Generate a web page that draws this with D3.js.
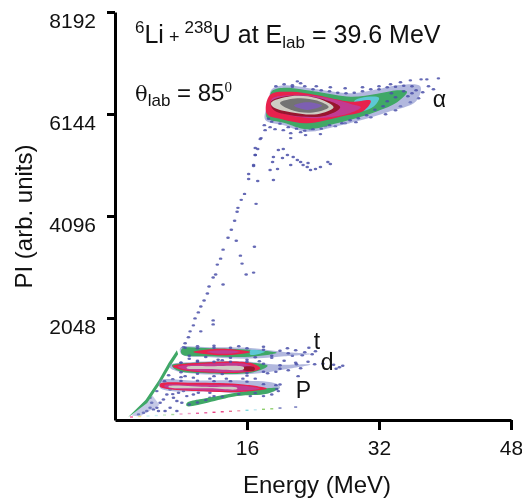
<!DOCTYPE html>
<html>
<head>
<meta charset="utf-8">
<script src="https://cdn.jsdelivr.net/npm/d3@7"></script>
<style>
body { margin: 0; background: #fff; }
text { font-family: "Liberation Sans", Arial, sans-serif; fill: #111; }
.axis path, .axis line { stroke: #000; stroke-width: 3; }
.axis text { font-size: 21px; font-family: "Liberation Sans", Arial, sans-serif; fill: #111; }
</style>
</head>
<body>
<div id="chart"></div>
<script>
// tick labels
const energyTicks = [16, 32, 48];
const piTicks = [2048, 4096, 6144, 8192];

// contour bands of the alpha blob [energy, PI]
const alphaOuter = [[19.0,6640],[20.45,6720],[24.5,6640],[28.6,6560],[31.8,6640],[34.2,6720],[37,6700],[36.5,6400],[33,6180],[29.8,6020],[26.9,5900],[23.3,5790],[20.45,5920],[18.2,6030],[18.6,6380]];
const alphaGreen = [[19.0,6600],[20.45,6670],[24.5,6590],[28.6,6490],[31.8,6550],[34.2,6620],[35.4,6590],[34.2,6380],[31.8,6200],[29.8,6090],[26.9,5960],[23.3,5840],[20.45,5970],[18.4,6070],[18.7,6380]];
const alphaCyan = [[29.0,6400],[30.6,6490],[32.0,6470],[31.4,6300],[29.6,6210]];
const alphaRed = [[18.8,6530],[21.3,6590],[24.5,6520],[28.6,6390],[31.0,6413],[30.2,6213],[27.3,6090],[23.3,5960],[20.45,6030],[18.4,6147]];
const alphaMagenta = [[19.0,6447],[21.7,6527],[25.3,6480],[28.6,6347],[29.8,6280],[28.2,6147],[24.5,6060],[20.9,6130],[19.0,6280]];
const alphaDarkRed = [[18.9,6390],[21.3,6510],[24.5,6470],[27.3,6280],[25.5,6110],[21.3,6120],[19.2,6230]];
const alphaLightGray = [[18.9,6366],[21.3,6500],[24.5,6460],[26.5,6280],[24.5,6140],[21.3,6180],[19.2,6280]];
const alphaDarkGray = [[20.0,6366],[22.1,6460],[24.5,6413],[25.9,6280],[23.7,6170],[21.3,6230]];
const alphaPurple = [[21.7,6313],[23.3,6380],[25.1,6313],[23.3,6226]];

// t band
const tOuter = [[7.9,1447],[11.5,1460],[16.4,1447],[20.5,1367],[23.7,1327],[20.5,1280],[16.4,1233],[11.5,1260],[8.1,1313]];
const tGreen = [[8.1,1430],[11.5,1440],[16.4,1410],[19.6,1350],[16.4,1270],[11.5,1280],[8.1,1320]];
const tCyan = [[16.4,1400],[18.2,1370],[16.4,1310]];
const tRed = [[9.5,1367],[12.8,1433],[16.4,1367],[13.2,1300]];
const tMagenta = [[11.1,1367],[13.2,1400],[15.2,1367],[13.2,1330]];

// d band
const dOuter = [[6.7,1113],[9.5,1167],[15.6,1180],[19.6,1113],[23.7,1113],[20.5,1013],[16.8,927],[11.5,913],[7.5,980],[6.6,1060]];
const dGreen = [[6.9,1100],[9.5,1150],[15.6,1160],[18.5,1090],[16.8,960],[11.5,935],[7.5,1000]];
const dRed = [[7.0,1080],[9.9,1147],[16.4,1147],[17.6,1033],[16.4,967],[11.5,947],[7.9,1013]];
const dMagenta = [[7.6,1070],[10.2,1120],[16.0,1120],[17.0,1035],[16.0,985],[11.5,970],[8.4,1020]];
const dDark = [[15.5,1060],[16.9,1060],[16.9,1000],[15.5,1005]];
const dGray = [[8.7,1065],[11.5,1080],[15.6,1065],[15.6,1020],[11.5,1025],[8.7,1040]];

// P band
const pOuter = [[5.4,790],[9.5,790],[15.6,793],[19.6,727],[20,647],[18.4,527],[14.8,530],[12.5,567],[5.5,640]];
const pLower = [[8.7,280],[14.8,480],[18.4,527],[19.8,640],[18.4,640],[14.8,550],[11.5,450],[8.7,340]];
const pRed = [[5.47,727],[9.5,747],[15.6,713],[18.4,633],[15.6,567],[11.5,567],[5.47,667]];
const pMagenta = [[6.0,700],[9.5,710],[15.6,690],[17.6,630],[15.6,590],[11.5,590],[6.0,670]];
const pGray = [[6.5,680],[11.5,665],[14.8,650],[14.8,620],[11.5,635],[6.5,660]];

// diagonal edge from the origin up to the t band
const edgeGreen = [[7.65,1320],[6.7,1080],[5.5,740],[3.9,340],[1.8,80],[1.6,60],[3.7,400],[5.3,800],[6.5,1150],[7.5,1400]];
const edgeBlue = [[2,90],[4.4,520],[5.4,300],[3,70]];

// single counts
const streakDots = [[18.1,5920],[17.7,5660],[17.3,5440],[17.0,5320],[16.8,5100],[16.2,4940],[16.2,4840],[15.7,4540],[15.3,4420],[14.9,4260],[14.8,4180],[14.5,4000],[14.1,3820],[13.7,3660],[13.1,3420],[12.8,3240],[12.4,3120],[12.2,2920],[11.9,2860],[11.4,2680],[11.2,2540],[10.8,2400],[10.4,2280],[10.1,2160],[9.7,2040],[9.5,1900],[9.1,1780],[8.9,1660],[8.5,1540],[8.3,1460]];
const alphaDots = [[21.5,6720],[22.5,6760],[22.1,6800],[24.4,6700],[26.1,6680],[27.9,6660],[30.0,6680],[32.0,6700],[33.4,6740],[34.6,6780],[35.8,6820],[37.1,6840],[37.8,6840],[39.2,6860],[38.0,6700],[37.3,6580],[38.6,6640],[36.8,6460],[35.8,6380],[34.6,6300],[34.0,6220],[32.8,6140],[31.0,6080],[29.2,5980],[27.9,5960],[26.7,5900],[25.5,5900],[23.7,5840],[22.5,5780],[21.3,5760],[20.4,5820],[19.4,5840],[18.8,5880],[18.2,5820],[21.3,5660],[23.1,5720],[24.9,5740]];
const clusterDots = [[17.6,5640],[17.0,5460],[17.0,5320],[16.8,5120],[19.2,5280],[19.8,5420],[20.4,5440],[19.1,5180],[20.3,5260],[20.9,5320],[21.6,5280],[22.5,5180],[23.3,5080],[21.3,5120],[19.7,5040],[18.8,5020],[22.1,5220],[22.8,5120],[23.7,5020],[23.4,5160],[25.8,5180],[26.1,5140],[24.9,5080],[24.3,5040],[19.2,4820],[17.3,4800]];
const strayDots = [[17.1,4340],[14.7,3600],[16.9,3480],[15.2,3300],[15.4,3140],[15.9,2920],[16.8,2960],[13.1,2720],[11.9,2000],[11.9,1920],[10.4,1780]];
const bandDots = [[20.9,1440],[21.9,1400],[23.0,1360],[23.9,1320],[24.3,1380],[23.5,1450],[22.7,1300],[21.5,1290],[18.0,1470],[15.0,1480],[12.0,1490],[10.0,1480],[9.0,1230],[12.5,1210],[16.0,1210],[19.0,1250],
  [20.5,1190],[21.9,1150],[23.4,1170],[24.2,1120],[26.5,1110],[27.2,1060],[27.6,1090],[26.8,1030],[25.2,1130],[22.5,1040],[21.0,1000],[19.5,970],[17.5,1180],[13,1200],[10,1190],[8,1150],[8.5,880],[12,880],[16,890],[18.5,940],
  [6.5,900],[8.0,860],[9.5,850],[11.5,830],[13.5,830],[15.5,830],[17.0,830],[7.0,820],[22.2,880]];
const lowDots = [[4.25,446],[5.07,246],[6.28,513],[7.5,380],[6.68,246],[4.66,213],[3.85,180],[5.47,346],[6.07,180],[7.09,446],[8.1,346],[8.7,480],[9.5,513],[5.07,580],[6.68,613],[8.3,580],[5.87,413],[4.45,346],[5.27,180],[7.7,546],[10.1,546],[11.5,546],[4.25,246],[3.45,146],[2.85,113],[7.5,180],[9.9,380],[11.5,446],[13.2,480],[16.4,480],[18.0,480],[20.0,713],[19.8,580],[19.0,513]];

// counts speckled over the edges of the blobs
const alphaEdgeDots = [[19.5,6700],[20.5,6740],[21.5,6690],[23,6700],[24,6640],[25,6620],[26,6600],[27,6570],[28,6560],[29,6570],[30,6600],[31,6640],[32,6640],[33,6680],[34,6690],[35,6710],[36,6700],[36.5,6620],[36,6560],[35.5,6500],[35,6600],[34,6480],[33.5,6560],[33,6400],[32.5,6300],[31.5,6230],[30.5,6120],[29.5,6060],[28.5,6020],[27.5,5960],[26,5920],[25,5850],[24,5840],[23,5810],[22,5850],[21,5880],[20,5950],[19,5990],[18.6,6050]];
const bandEdgeDots = [[8.5,1450],[10,1440],[12,1450],[14,1450],[16,1440],[18,1410],[20,1390],[21,1340],[19,1290],[17,1260],[14,1250],[11,1265],[9,1290],
  [8,1150],[10,1170],[12,1170],[14,1170],[16,1170],[18,1130],[20,1100],[22,1120],[20,1030],[18,970],[16,945],[13,925],[10,930],[8,960],
  [6,780],[8,785],[10,790],[12,780],[14,780],[16,770],[18,720],[19.5,700],[19.6,620],[17,540],[15,520],[13,470],[11,400],[9,310],[10,350],[12,480],[7,520]];

// faint coloured line under the P band
const baseEnergy = [2,3,4,5,6,7,8,9,10,11,12,13,14,15,16,17,18,19,20,21.9];
const basePI = [60,70,80,90,100,110,120,130,135,145,155,165,175,185,195,205,215,225,240,260];
const baseColors = ['#f0609a','#f5e890','#c8eef0','#c8eef0','#c8eac8','#a8d8a0','#f0a0c8','#f0a0c8','#e860a0','#e860a0','#e84080','#e84080','#e87090','#f09ab0','#80d8e0','#c0e8f0','#90d070','#90d070','#6a70b8','#6a70b8'];

const margin = { top: 12, right: 11, bottom: 78, left: 115 };
const width = 522 - margin.left - margin.right,
    height = 498 - margin.top - margin.bottom;

const svgRoot = d3.select('#chart').append('svg')
    .attr('width', 522)
    .attr('height', 498)
    .style('display', 'block');

svgRoot.append('defs').append('filter')
    .attr('id', 'soft')
    .append('feGaussianBlur')
    .attr('stdDeviation', 0.55);

const svg = svgRoot.append('g')
    .attr('transform', 'translate(' + margin.left + ',' + margin.top + ')');

const x = d3.scaleLinear().domain([0, 48]).range([0, width]);
const y = d3.scaleLinear().domain([0, 8192]).range([height, 0]);

const blob = d3.line().x(d => x(d[0])).y(d => y(d[1])).curve(d3.curveCatmullRomClosed);
const edge = d3.line().x(d => x(d[0])).y(d => y(d[1])).curve(d3.curveLinearClosed);
const marks = svg.append('g').attr('filter', 'url(#soft)');

function drawDots(list) {
    marks.append('g').selectAll('ellipse')
        .data(list)
        .enter()
        .append('ellipse')
        .attr('cx', d => x(d[0]))
        .attr('cy', d => y(d[1]))
        .attr('rx', 1.8)
        .attr('ry', 1.2)
        .style('fill', '#4a50a8')
        .style('opacity', 0.85);
}

function drawBlob(points, color, opacity) {
    marks.append('path')
        .attr('d', blob(points))
        .style('fill', color)
        .style('opacity', opacity || 1);
}

const BLUE = '#7f88c8', GREEN = '#3fa866', CYAN = '#5cc8d4', RED = '#e8204e',
    MAGENTA = '#c23a92', DARKRED = '#98142e', LIGHT = '#cfcdc4', GRAY = '#737373', PURPLE = '#7d5fb2';

[streakDots, alphaDots, clusterDots, strayDots, bandDots, lowDots].forEach(drawDots);

marks.append('path').attr('d', edge(edgeBlue)).style('fill', BLUE).style('opacity', 0.45);
marks.append('path').attr('d', edge(edgeGreen)).style('fill', GREEN);

[[alphaOuter, BLUE, 0.6], [alphaGreen, GREEN], [alphaCyan, CYAN], [alphaRed, RED], [alphaMagenta, MAGENTA],
 [alphaDarkRed, DARKRED], [alphaLightGray, LIGHT], [alphaDarkGray, GRAY], [alphaPurple, PURPLE],
 [tOuter, BLUE, 0.6], [tGreen, GREEN], [tCyan, CYAN], [tRed, RED], [tMagenta, MAGENTA],
 [dOuter, BLUE, 0.6], [dGreen, GREEN], [dRed, RED], [dMagenta, MAGENTA], [dDark, DARKRED], [dGray, LIGHT],
 [pOuter, BLUE, 0.6], [pLower, GREEN], [pRed, RED], [pMagenta, MAGENTA], [pGray, LIGHT]
].forEach(b => drawBlob(b[0], b[1], b[2]));

drawDots(alphaEdgeDots);
drawDots(bandEdgeDots);

marks.append('g').selectAll('rect')
    .data(baseEnergy)
    .enter()
    .append('rect')
    .attr('x', d => x(d) - 1.5)
    .attr('y', (d, i) => y(basePI[i]) - 0.7)
    .attr('width', 3)
    .attr('height', 1.4)
    .style('fill', (d, i) => baseColors[i]);

// axes
svg.append('g')
    .attr('class', 'axis')
    .attr('transform', 'translate(0,' + height + ')')
    .call(d3.axisBottom(x).tickValues(energyTicks).tickFormat(d3.format('d')).tickSize(10).tickPadding(10).tickSizeOuter(0));

const yAxis = svg.append('g')
    .attr('class', 'axis')
    .call(d3.axisLeft(y).tickValues(piTicks).tickFormat(d3.format('d')).tickSize(8).tickPadding(11).tickSizeOuter(0));
yAxis.selectAll('.tick text').attr('dy', '15');

// axis titles
svg.append('text')
    .attr('transform', 'translate(202,481)')
    .style('text-anchor', 'middle')
    .style('font-size', '24px')
    .text('Energy (MeV)');

svg.append('text')
    .attr('transform', 'translate(-83,204.5) rotate(-90)')
    .style('text-anchor', 'middle')
    .style('font-size', '24px')
    .text('PI (arb. units)');

// annotations
const title = svgRoot.append('text')
    .attr('x', 135)
    .attr('y', 43)
    .style('font-size', '25px');
title.append('tspan').attr('dy', -10).style('font-size', '17px').text('6');
title.append('tspan').attr('dy', 10).text('Li');
title.append('tspan').style('font-size', '18px').text(' + ');
title.append('tspan').attr('dy', -10).style('font-size', '17px').text('238');
title.append('tspan').attr('dy', 10).text('U at E');
title.append('tspan').attr('dy', 5).style('font-size', '17px').text('lab');
title.append('tspan').attr('dy', -5).text(' = 39.6 MeV');

const angle = svgRoot.append('text')
    .attr('x', 135)
    .attr('y', 101)
    .style('font-size', '24px');
angle.append('tspan').style('font-family', '"DejaVu Serif", serif').style('font-size', '21px').text('θ');
angle.append('tspan').attr('dy', 5).style('font-size', '17px').text('lab');
angle.append('tspan').attr('dy', -5).text(' = 85');
angle.append('tspan').attr('dy', -9).style('font-size', '15px').style('font-family', '"Liberation Serif", serif').text('0');

const bandLabels = ['α', 't', 'd', 'P'];
const labelEnergy = [38.5, 24.1, 24.95, 21.9];
const labelPI = [6285, 1425, 1004, 442];
svg.selectAll('.bandLabel')
    .data(bandLabels)
    .enter()
    .append('text')
    .attr('class', 'bandLabel')
    .attr('x', (d, i) => x(labelEnergy[i]))
    .attr('y', (d, i) => y(labelPI[i]))
    .style('font-size', '23px')
    .text(d => d);
</script>
</body>
</html>
